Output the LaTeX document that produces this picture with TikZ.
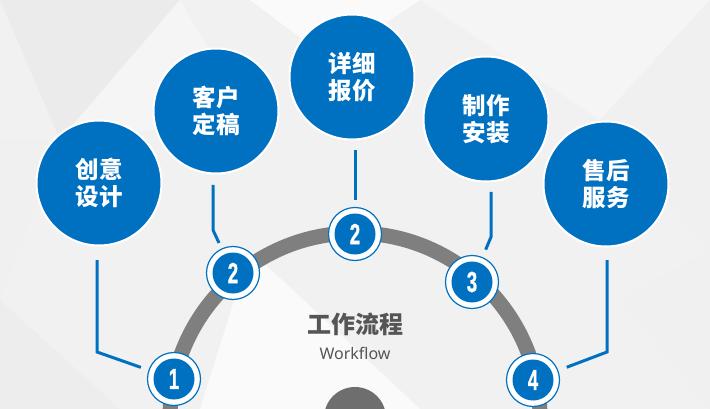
\documentclass[tikz,border=0pt]{standalone}
\usepackage{fontspec}
\setmainfont{Noto Sans}
\newfontfamily\cjk{Noto Sans CJK SC}
\newfontfamily\numfont[FakeBold=1.2]{Liberation Sans}
\definecolor{myblue}{HTML}{0070C0}
\definecolor{ringgray}{HTML}{7F7F7F}
\definecolor{discgray}{HTML}{6E6E6E}
\definecolor{titlegray}{HTML}{555555}
\definecolor{bgbase}{HTML}{F1F1F1}
\begin{document}
\begin{tikzpicture}[x=1pt,y=-1pt,
  bigc/.style={circle, fill=myblue, draw=white, line width=2pt, minimum size=125pt, inner sep=0pt,
    text=white, font=\cjk\bfseries\fontsize{23.5}{27}\selectfont, align=center},
  badge/.style={circle, fill=white, draw=myblue, line width=1.2pt, minimum size=53pt, inner sep=0pt},
  badgein/.style={circle, fill=myblue, minimum size=41pt, inner sep=0pt, text=white,
    font=\numfont\bfseries\fontsize{29}{29}\selectfont},
  conn/.style={draw=myblue, line width=3pt},
  tri/.style={draw=none}
]
\useasboundingbox (0,0) rectangle (710,409);
% background
\fill[bgbase] (0,0) rectangle (710,409);
\fill[tri, fill=black!8] (0,0) -- (180,0) -- (60,140) -- cycle;
\fill[tri, fill=black!6] (0,140) -- (60,140) -- (0,300) -- cycle;
\fill[tri, fill=black!2] (250,0) -- (420,0) -- (330,60) -- cycle;
\fill[tri, fill=black!4] (420,0) -- (710,0) -- (600,120) -- cycle;
\fill[tri, fill=black!6] (600,120) -- (710,0) -- (710,250) -- cycle;
\fill[tri, fill=black!7] (0,300) -- (120,409) -- (0,409) -- cycle;
\fill[tri, fill=black!6] (620,300) -- (710,250) -- (710,409) -- cycle;
\fill[tri, fill=black!2] (250,250) -- (420,409) -- (200,409) -- cycle;
\fill[tri, fill=black!4] (60,140) -- (180,0) -- (250,120) -- cycle;
% ring and disc
\draw[ringgray, line width=15pt] (355,418) circle[radius=185pt];
\fill[discgray] (355,418) circle[radius=31pt];
% title
\node[font=\cjk\bfseries\fontsize{24}{24}\selectfont, text=titlegray] (title) at (355,324) {工作流程};
\node[font=\fontsize{16}{16}\selectfont, text=titlegray] (sub) at (355,353) {Workflow};
% big circles
\node[bigc] (c1) at (99,183) {创意\\设计};
\node[bigc] (c2) at (216,111) {客户\\定稿};
\node[bigc] (c3) at (352,77) {详细\\报价};
\node[bigc] (c4) at (486,119) {制作\\安装};
\node[bigc] (c5) at (606,184) {售后\\服务};
% badges
\node[badge] (b1) at (174,379) {};
\node[badge] (b2) at (233,273) {};
\node[badge] (b3) at (355,234) {};
\node[badge] (b4) at (472,282) {};
\node[badge] (b5) at (533,380) {};
\node[badgein] (n1) at (b1) {\scalebox{0.64}[1]{1}};
\node[badgein] (n2) at (b2) {\scalebox{0.64}[1]{2}};
\node[badgein] (n3) at (b3) {\scalebox{0.64}[1]{2}};
\node[badgein] (n4) at (b4) {\scalebox{0.64}[1]{3}};
\node[badgein] (n5) at (b5) {\scalebox{0.64}[1]{4}};
% connectors
\coordinate (s1) at (97,260);  \coordinate (k1) at (97,352);
\coordinate (s2) at (213,185); \coordinate (k2) at (213,230);
\coordinate (s3) at (355,150);
\coordinate (s4) at (491,192); \coordinate (k4) at (491,237);
\coordinate (s5) at (607,260); \coordinate (k5) at (607,352);
\draw[conn, shorten >=8pt] (s1) -- (k1) -- (b1);
\draw[conn, shorten >=6pt] (s2) -- (k2) -- (b2);
\draw[conn, shorten >=7pt] (s3) -- (b3);
\draw[conn, shorten >=8pt] (s4) -- (k4) -- (b4);
\draw[conn, shorten >=9pt] (s5) -- (k5) -- (b5);
\end{tikzpicture}
\end{document}
